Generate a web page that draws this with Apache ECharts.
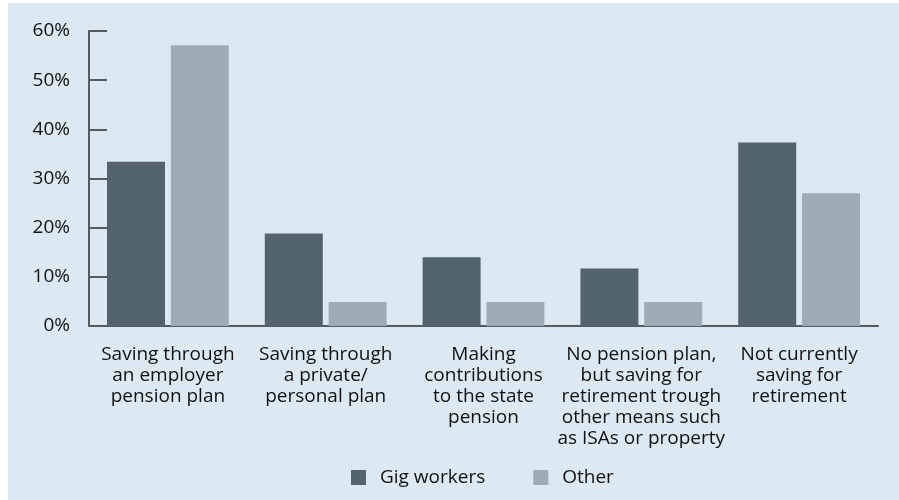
<!DOCTYPE html>
<html>
<head>
<meta charset="utf-8">
<script src="https://cdn.jsdelivr.net/npm/echarts@6/dist/echarts.min.js"></script>
<style>
	html, body { margin: 0; padding: 0; background: #ffffff; }
	#chart { position: absolute; left: 8px; top: 3px; width: 891px; height: 497px; background: #dde9f2; }
</style>
</head>
<body>
<div id="chart"></div>
<script>
	// categories (x axis), with line breaks as in the figure
	var categories = [
		'Saving through\nan employer\npension plan',
		'Saving through\na private/\npersonal plan',
		'Making\ncontributions\nto the state\npension',
		'No pension plan,\nbut saving for\nretirement trough\nother means such\nas ISAs or property',
		'Not currently\nsaving for\nretirement'
	];
	var gigWorkers = [33.4, 18.8, 14.0, 11.7, 37.3];
	var other = [57.1, 4.9, 4.9, 4.9, 27.0];
	var yTicks = [0, 10, 20, 30, 40, 50, 60];

	var chart = echarts.init(document.getElementById('chart'));
	var font = '"Open Sans", "Noto Sans", sans-serif';
	var axisColor = '#555a5e';

	var option = {
		animation: false,
		textStyle: { fontFamily: font },
		grid: { left: 81, right: 21, top: 28, bottom: 174 },
		legend: {
			top: 460,
			left: 338,
			itemWidth: 15,
			itemHeight: 15,
			itemGap: 48,
			icon: 'rect',
			textStyle: { fontFamily: font, fontSize: 19, color: '#111', padding: [0, 0, 0, 9] },
			data: ['Gig workers', 'Other']
		},
		xAxis: {
			type: 'category',
			data: categories,
			axisLine: { lineStyle: { color: axisColor, width: 2 } },
			axisTick: { inside: true, length: 6, lineStyle: { color: axisColor, width: 2 } },
			axisLabel: { fontFamily: font, fontSize: 19, lineHeight: 21, color: '#111', margin: 18, interval: 0 }
		},
		yAxis: {
			type: 'value',
			min: yTicks[0],
			max: yTicks[yTicks.length - 1],
			interval: 10,
			axisLine: { show: true, lineStyle: { color: axisColor, width: 2 } },
			axisTick: { show: true, inside: true, length: 18, lineStyle: { color: axisColor, width: 2 } },
			splitLine: { show: false },
			axisLabel: { formatter: '{value}%', fontFamily: font, fontSize: 19, color: '#111', margin: 19 }
		},
		series: [
			{ name: 'Gig workers', type: 'bar', data: gigWorkers, barWidth: 58, barGap: '10%', itemStyle: { color: '#53646f' } },
			{ name: 'Other', type: 'bar', data: other, barWidth: 58, itemStyle: { color: '#9dacb6' } }
		]
	};
	chart.setOption(option);
</script>
</body>
</html>
